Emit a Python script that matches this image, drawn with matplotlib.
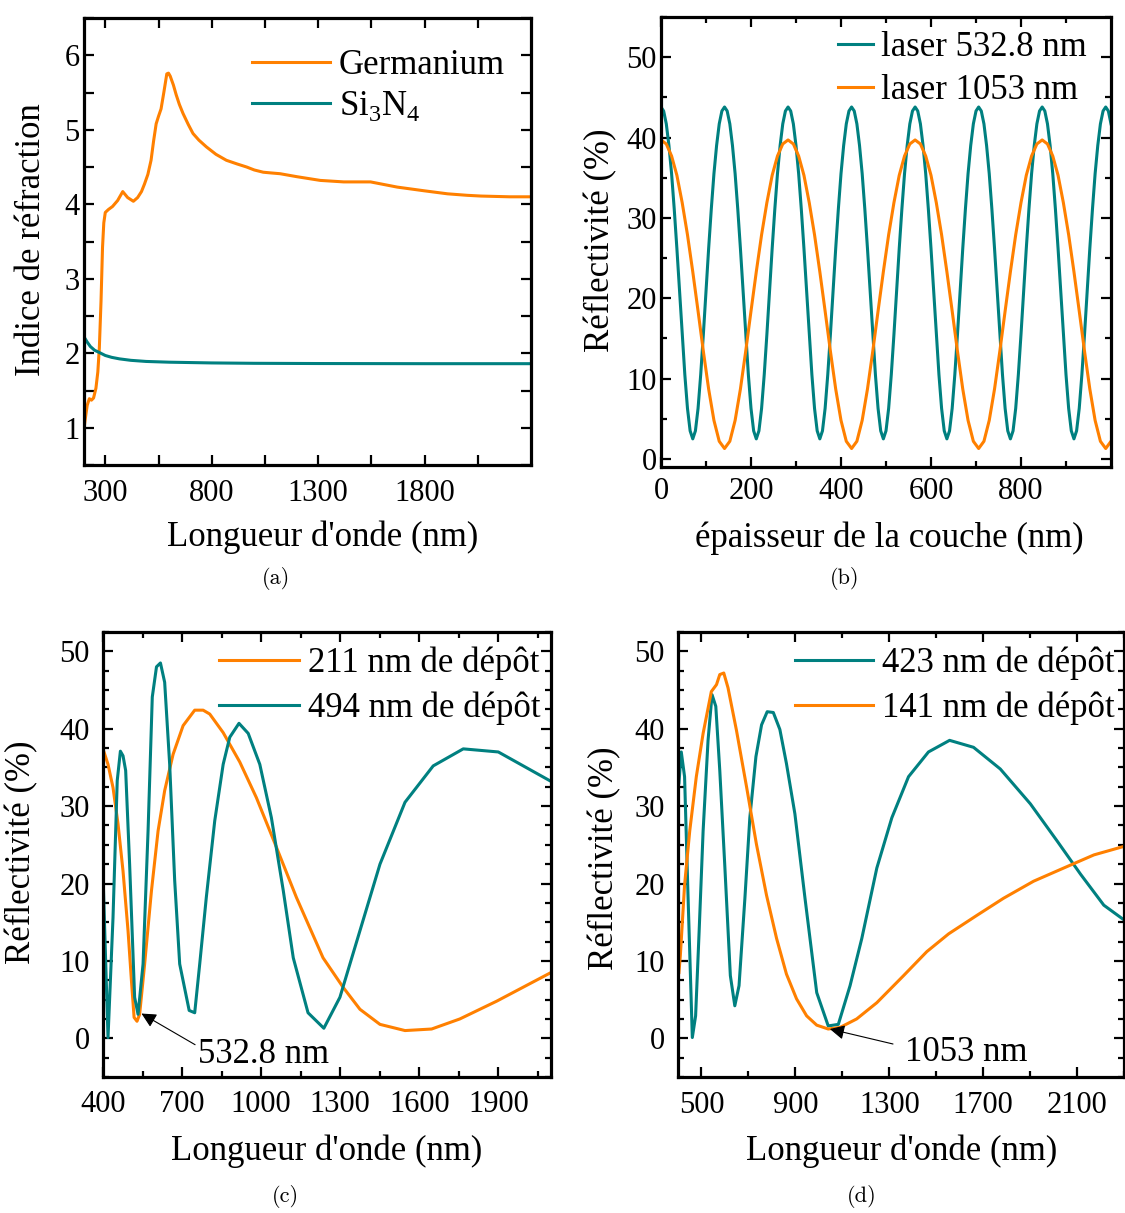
import matplotlib
matplotlib.use('Agg')
import matplotlib.pyplot as plt
from matplotlib.ticker import FixedLocator, MultipleLocator
import numpy as np

plt.rcParams['font.family'] = 'Liberation Serif'
plt.rcParams['mathtext.fontset'] = 'custom'
plt.rcParams['mathtext.rm'] = 'Liberation Serif'

ORANGE = '#FF8000'
TEAL = '#008080'

# (a) indice de refraction
ge_lambda = [200, 205, 215, 225, 235, 245, 256, 265, 272, 280, 287, 293, 300, 315, 334,
             358, 382, 405, 432, 452, 470, 484, 500, 515, 527, 539, 550, 562, 575, 589,
             597, 605, 620, 633, 648, 665, 690, 712, 740, 775, 820, 869, 920, 964, 1000,
             1042, 1080, 1121, 1200, 1310, 1420, 1546, 1600, 1672, 1800, 1908, 2000, 2065,
             2200, 2300]
ge_n = [0.98, 1.10, 1.30, 1.39, 1.37, 1.40, 1.53, 1.75, 2.07, 2.70, 3.42, 3.75, 3.89, 3.93, 3.97,
        4.05, 4.17, 4.09, 4.04, 4.09, 4.17, 4.27, 4.40, 4.59, 4.85, 5.08, 5.18, 5.28, 5.50, 5.75,
        5.76, 5.72, 5.60, 5.47, 5.34, 5.22, 5.07, 4.95, 4.86, 4.77, 4.67, 4.59, 4.54, 4.50, 4.46,
        4.43, 4.42, 4.41, 4.37, 4.32, 4.30, 4.30, 4.27, 4.23, 4.18, 4.14, 4.12, 4.11,
        4.10, 4.10]
sin_lambda = [200, 215, 230, 250, 272, 300, 330, 366, 420, 492, 600, 800, 1000, 1300, 1800, 2300]
sin_n = [2.22, 2.15, 2.09, 2.04, 2.01, 1.97, 1.945, 1.925, 1.905, 1.89, 1.88, 1.87, 1.865, 1.862,
         1.86, 1.86]

# (b) reflectivite vs epaisseur
ep_532 = np.linspace(0, 1000, 171)
r_532 = [43.8, 43.3, 41.7, 39.0, 35.5, 31.1, 26.2, 20.9, 15.5, 10.5, 6.3, 3.5, 2.5, 3.5, 6.3, 10.5, 15.5, 20.9, 26.2, 31.1, 35.5, 39.0, 41.7, 43.3,
         43.8, 43.3, 41.7, 39.0, 35.5, 31.1, 26.2, 20.9, 15.5, 10.5, 6.3, 3.5, 2.5, 3.5, 6.3, 10.5, 15.5, 20.9, 26.2, 31.1, 35.5, 39.0, 41.7, 43.3,
         43.8, 43.3, 41.7, 39.0, 35.5, 31.1, 26.2, 20.9, 15.5, 10.5, 6.3, 3.5, 2.5, 3.5, 6.3, 10.5, 15.5, 20.9, 26.2, 31.1, 35.5, 39.0, 41.7, 43.3,
         43.8, 43.3, 41.7, 39.0, 35.5, 31.1, 26.2, 20.9, 15.5, 10.5, 6.3, 3.5, 2.5, 3.5, 6.3, 10.5, 15.5, 20.9, 26.2, 31.1, 35.5, 39.0, 41.7, 43.3,
         43.8, 43.3, 41.7, 39.0, 35.5, 31.1, 26.2, 20.9, 15.5, 10.5, 6.3, 3.5, 2.5, 3.5, 6.3, 10.5, 15.5, 20.9, 26.2, 31.1, 35.5, 39.0, 41.7, 43.3,
         43.8, 43.3, 41.7, 39.0, 35.5, 31.1, 26.2, 20.9, 15.5, 10.5, 6.3, 3.5, 2.5, 3.5, 6.3, 10.5, 15.5, 20.9, 26.2, 31.1, 35.5, 39.0, 41.7, 43.3,
         43.8, 43.3, 41.7, 39.0, 35.5, 31.1, 26.2, 20.9, 15.5, 10.5, 6.3, 3.5, 2.5, 3.5, 6.3, 10.5, 15.5, 20.9, 26.2, 31.1, 35.5, 39.0, 41.7, 43.3,
         43.8, 43.3, 41.7]
ep_1053 = np.linspace(0, 1000, 86)
r_1053 = [39.7, 39.2, 37.7, 35.3, 31.9, 27.9, 23.3, 18.4, 13.4, 8.7, 4.8, 2.2, 1.3, 2.2, 4.8, 8.7, 13.4, 18.4, 23.3, 27.9, 31.9, 35.3, 37.7, 39.2,
          39.7, 39.2, 37.7, 35.3, 31.9, 27.9, 23.3, 18.4, 13.4, 8.7, 4.8, 2.2, 1.3, 2.2, 4.8, 8.7, 13.4, 18.4, 23.3, 27.9, 31.9, 35.3, 37.7, 39.2,
          39.7, 39.2, 37.7, 35.3, 31.9, 27.9, 23.3, 18.4, 13.4, 8.7, 4.8, 2.2, 1.3, 2.2, 4.8, 8.7, 13.4, 18.4, 23.3, 27.9, 31.9, 35.3, 37.7, 39.2,
          39.7, 39.2, 37.7, 35.3, 31.9, 27.9, 23.3, 18.4, 13.4, 8.7, 4.8, 2.2, 1.3, 2.2]

# (c) 211 nm / 494 nm de depot
c211_lambda = [400, 419, 438, 457, 476, 495, 508, 518, 529, 539, 558, 584, 609, 634, 666, 704, 748,
               780, 805, 856, 919, 982, 1058, 1134, 1235, 1311, 1375, 1451, 1546, 1647, 1754, 1894, 2100]
c211_r = [37.4, 35.4, 32.4, 27.7, 21.6, 13.9, 7.4, 2.7, 2.2, 3.1, 9.6, 19.1, 26.8, 32.0, 36.7, 40.4, 42.4,
          42.4, 41.9, 39.5, 35.7, 31.1, 24.7, 18.2, 10.4, 6.6, 3.75, 1.8, 1.0, 1.2, 2.5, 4.8, 8.5]
c494_lambda = [400, 419, 438, 454, 466, 476, 486, 501, 520, 533, 552, 571, 587, 603, 618, 634, 653,
               672, 691, 727, 748, 767, 792, 824, 856, 881, 916, 951, 995, 1039, 1084, 1122, 1178,
               1238, 1299, 1375, 1451, 1546, 1653, 1767, 1900, 2100]
c494_r = [21.2, 0.1, 15.6, 33.3, 37.1, 36.5, 34.6, 22.5, 5.3, 3.1, 9.6, 26.8, 44.1, 48.0, 48.5, 46.0, 35.4,
          20.4, 9.6, 3.6, 3.3, 9.6, 18.2, 28.1, 35.4, 38.9, 40.7, 39.4, 35.4, 28.5, 19.1, 10.4, 3.3,
          1.3, 5.3, 13.9, 22.5, 30.5, 35.2, 37.4, 37.0, 33.2]

# (d) 423 nm / 141 nm de depot
d423_lambda = [404, 414, 428, 443, 461, 475, 490, 507, 528, 545, 561, 578, 599, 623, 642, 660, 685,
               706, 732, 756, 780, 806, 834, 862, 898, 941, 991, 1040, 1083, 1133, 1183, 1247, 1311,
               1382, 1467, 1557, 1659, 1773, 1901, 2015, 2115, 2214, 2300]
d423_r = [33.0, 37.0, 33.8, 18.1, 0.1, 2.9, 13.8, 26.8, 38.5, 44.4, 42.9, 34.6, 22.5, 8.1, 4.2, 6.8, 18.1,
          28.5, 36.4, 40.5, 42.2, 42.1, 39.9, 35.5, 29.0, 18.1, 5.9, 1.6, 1.8, 6.8, 12.9, 22.0, 28.5,
          33.8, 37.0, 38.5, 37.6, 34.8, 30.3, 25.5, 21.2, 17.2, 15.3]
d141_lambda = [404, 410, 428, 450, 478, 507, 542, 564, 578, 595, 613, 649, 692, 734, 777, 820, 862, 905,
               948, 991, 1040, 1090, 1161, 1247, 1361, 1460, 1553, 1674, 1787, 1915, 2043, 2172, 2300]
d141_r = [8.5, 10.7, 19.8, 26.8, 33.8, 39.4, 44.8, 45.7, 47.0, 47.2, 45.3, 39.8, 32.5, 25.1, 18.5, 12.9, 8.3, 5.1,
          2.9, 1.7, 1.2, 1.4, 2.5, 4.6, 8.1, 11.2, 13.5, 15.9, 18.1, 20.3, 22.0, 23.7, 24.8]

W, H = 1125, 1213
fig = plt.figure(figsize=(W / 100, H / 100), dpi=100)


def add_ax(l, t, r, b):
    ax = fig.add_axes([l / W, 1 - b / H, (r - l) / W, (b - t) / H])
    ax.box_px = (l, t, r, b)
    return ax


def style(ax, xpad, ypad, minor_len=4):
    for s in ax.spines.values():
        s.set_linewidth(2.3)
    ax.tick_params(which='both', direction='in', top=True, right=True, width=1.6, labelsize=22)
    ax.tick_params(which='major', length=7)
    ax.tick_params(which='minor', length=minor_len)
    ax.tick_params(axis='x', which='both', pad=xpad)
    ax.tick_params(axis='y', which='both', pad=ypad)


def labels(ax, xtext, ytext, xl, yl):
    # xl, yl : (x, baseline) in figure pixels
    l, t, r, b = ax.box_px
    ax.set_xlabel(xtext, fontsize=25)
    ax.set_ylabel(ytext, fontsize=25)
    ax.xaxis.set_label_coords((xl[0] - l) / (r - l), (b - xl[1]) / (b - t))
    ax.yaxis.set_label_coords((yl[0] - l) / (r - l), (b - yl[1]) / (b - t))
    ax.xaxis.label.set_va('baseline')
    ax.yaxis.label.set_va('baseline')


def legend(ax, x, y, hl, spacing):
    ax.legend(loc='upper left', bbox_to_anchor=(x / W, 1 - y / H), bbox_transform=fig.transFigure,
              frameon=False, fontsize=25, handlelength=hl, handletextpad=0.25,
              labelspacing=spacing, borderpad=0, borderaxespad=0)


# ---- (a)
ax = add_ax(84, 18, 531, 465)
ax.plot(ge_lambda, ge_n, color=ORANGE, lw=2.2, label='Germanium')
ax.plot(sin_lambda, sin_n, color=TEAL, lw=2.2, label=r'Si$_\mathregular{3}$N$_\mathregular{4}$')
ax.set_xlim(200, 2300)
ax.set_ylim(0.5, 6.5)
ax.xaxis.set_major_locator(FixedLocator([300, 800, 1300, 1800]))
ax.xaxis.set_minor_locator(FixedLocator([550, 1050, 1550, 2050]))
ax.yaxis.set_major_locator(FixedLocator([1, 2, 3, 4, 5, 6]))
ax.yaxis.set_minor_locator(MultipleLocator(0.5))
style(ax, 10, 3, minor_len=7)
labels(ax, "Longueur d'onde (nm)", 'Indice de réfraction', (323, 546), (40, 240))
legend(ax, 252, 49, 2.25, 0.2)

# ---- (b)
ax = add_ax(661, 17, 1111, 467)
ax.plot(ep_532, r_532, color=TEAL, lw=2.2, label='laser 532.8 nm')
ax.plot(ep_1053, r_1053, color=ORANGE, lw=2.2, label='laser 1053 nm')
ax.set_xlim(0, 1000)
ax.set_ylim(-1, 55)
ax.xaxis.set_major_locator(FixedLocator([0, 200, 400, 600, 800]))
ax.xaxis.set_minor_locator(FixedLocator([100, 300, 500, 700, 900]))
ax.yaxis.set_major_locator(MultipleLocator(10))
ax.yaxis.set_minor_locator(MultipleLocator(5))
style(ax, 7, 3)
labels(ax, 'épaisseur de la couche (nm)', 'Réflectivité (%)', (889, 547), (609, 240))
legend(ax, 838, 31, 1.0, 0.3)

# ---- (c)
ax = add_ax(103, 632, 551, 1077)
ax.plot(c211_lambda, c211_r, color=ORANGE, lw=2.2, label='211 nm de dépôt')
ax.plot(c494_lambda, c494_r, color=TEAL, lw=2.2, label='494 nm de dépôt')
ax.set_xlim(400, 2100)
ax.set_ylim(-5, 52.5)
ax.xaxis.set_major_locator(FixedLocator([400, 700, 1000, 1300, 1600, 1900]))
ax.xaxis.set_minor_locator(FixedLocator([550, 850, 1150, 1450, 1750, 2050]))
ax.yaxis.set_major_locator(FixedLocator([0, 10, 20, 30, 40, 50]))
ax.yaxis.set_minor_locator(MultipleLocator(2.5))
style(ax, 9, 9.5)
labels(ax, "Longueur d'onde (nm)", 'Réflectivité (%)', (327, 1160), (30, 852))
legend(ax, 219, 647, 2.3, 0.32)
ax.annotate('532.8 nm', xy=(546, 3.2), xytext=(760, -3.2), fontsize=25, va='baseline', ha='left',
            arrowprops=dict(arrowstyle='-|>', color='k', lw=0.8, mutation_scale=22,
                            shrinkA=0, shrinkB=0, relpos=(0, 0.75)))

# ---- (d)
ax = add_ax(678, 632, 1124, 1077)
ax.plot(d423_lambda, d423_r, color=TEAL, lw=2.2, label='423 nm de dépôt')
ax.plot(d141_lambda, d141_r, color=ORANGE, lw=2.2, label='141 nm de dépôt')
ax.set_xlim(400, 2300)
ax.set_ylim(-5, 52.5)
ax.xaxis.set_major_locator(FixedLocator([500, 900, 1300, 1700, 2100]))
ax.xaxis.set_minor_locator(FixedLocator([700, 1100, 1500, 1900, 2300]))
ax.yaxis.set_major_locator(FixedLocator([0, 10, 20, 30, 40, 50]))
ax.yaxis.set_minor_locator(MultipleLocator(2.5))
style(ax, 10, 9.5)
labels(ax, "Longueur d'onde (nm)", 'Réflectivité (%)', (902, 1160), (613, 858))
legend(ax, 795, 647, 2.25, 0.32)
ax.annotate('1053 nm', xy=(1047, 1.2), xytext=(1368, -2.9), fontsize=25, va='baseline', ha='left',
            arrowprops=dict(arrowstyle='-|>', color='k', lw=0.8, mutation_scale=22,
                            shrinkA=0, shrinkB=0, relpos=(-0.1, 0.75)))

# sous-titres
for txt, x, y in [('(a)', 276, 578), ('(b)', 845, 578), ('(c)', 285, 1196), ('(d)', 862, 1196)]:
    fig.text(x / W, 1 - y / H, txt, family='cmr10', fontsize=16, ha='center', va='center')

fig.savefig('out.png', dpi=100)
